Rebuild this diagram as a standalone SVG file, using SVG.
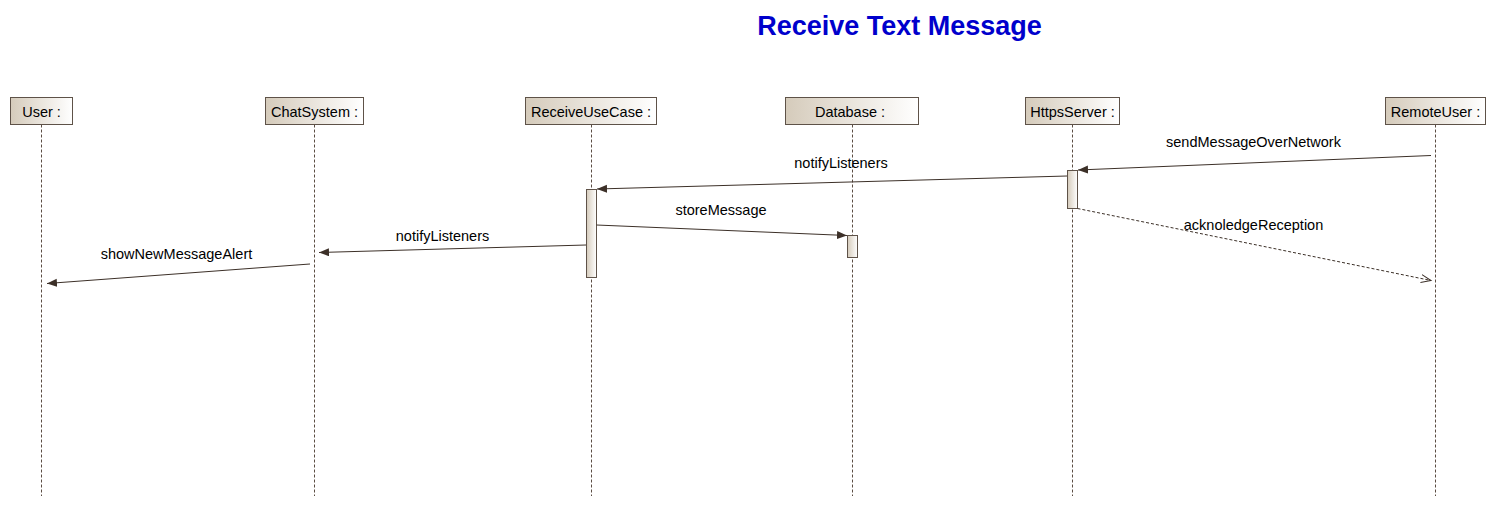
<svg xmlns="http://www.w3.org/2000/svg" width="1496" height="507" viewBox="0 0 1496 507">
<defs>
<linearGradient id="boxg" x1="0" y1="0" x2="1" y2="0">
<stop offset="0" stop-color="#d5cbbb"/>
<stop offset="1" stop-color="#ffffff"/>
</linearGradient>
<marker id="fill" markerUnits="userSpaceOnUse" markerWidth="11" markerHeight="9" refX="10" refY="4" orient="auto">
<path d="M0,0 L10,4 L0,8 z" fill="#3c3028"/>
</marker>
<marker id="open" markerUnits="userSpaceOnUse" markerWidth="12" markerHeight="10" refX="10" refY="4.5" orient="auto">
<path d="M0,0.5 L10,4.5 L0,8.5" fill="none" stroke="#3c3028" stroke-width="1"/>
</marker>
</defs>
<style>
.box{fill:url(#boxg);stroke:#5e5248;stroke-width:1}
.act{fill:url(#boxg);stroke:#5e5248;stroke-width:1}
.life{stroke:#5a4c42;stroke-width:1;stroke-dasharray:3,2;fill:none}
.lbl{font-family:"Liberation Sans",Arial,sans-serif;font-size:14.5px;fill:#000;text-anchor:middle}
.msg{stroke:#3c3028;stroke-width:1;fill:none;marker-end:url(#fill)}
.ret{stroke:#3c3028;stroke-width:1;fill:none;stroke-dasharray:3,2;marker-end:url(#open)}
.title{font-family:"Liberation Sans",Arial,sans-serif;font-size:27px;font-weight:bold;fill:#0000cc;text-anchor:middle}
</style>
<rect width="1496" height="507" fill="#ffffff"/>
<text class="title" x="899.5" y="34.5">Receive Text Message</text>

<g id="user">
<line class="life" x1="41.5" y1="124.5" x2="41.5" y2="496"/>
<rect class="box" x="10.5" y="97.5" width="62" height="27"/>
<text class="lbl" x="41.5" y="116.5">User :</text>
</g>
<g id="chatsystem">
<line class="life" x1="314.5" y1="124.5" x2="314.5" y2="496"/>
<rect class="box" x="265.5" y="97.5" width="98" height="27"/>
<text class="lbl" x="314.5" y="116.5">ChatSystem :</text>
</g>
<g id="receiveusecase">
<line class="life" x1="591.5" y1="124.5" x2="591.5" y2="496"/>
<rect class="box" x="525.5" y="97.5" width="131" height="27"/>
<text class="lbl" x="591" y="116.5">ReceiveUseCase :</text>
<rect class="act" x="586.5" y="189.5" width="10" height="88"/>
</g>
<g id="database">
<line class="life" x1="852.5" y1="124.5" x2="852.5" y2="496"/>
<rect class="box" x="785.5" y="97.5" width="133" height="27"/>
<text class="lbl" x="850" y="116.5">Database :</text>
<rect class="act" x="847.5" y="235.5" width="10" height="22"/>
</g>
<g id="httpsserver">
<line class="life" x1="1072.5" y1="124.5" x2="1072.5" y2="496"/>
<rect class="box" x="1025.5" y="97.5" width="94" height="27"/>
<text class="lbl" x="1072.5" y="116.5">HttpsServer :</text>
<rect class="act" x="1067.5" y="170.5" width="10" height="38"/>
</g>
<g id="remoteuser">
<line class="life" x1="1435.5" y1="124.5" x2="1435.5" y2="496"/>
<rect class="box" x="1385.5" y="97.5" width="100" height="27"/>
<text class="lbl" x="1435.5" y="116.5">RemoteUser :</text>
</g>

<g id="connectors">
<line class="msg" x1="1431" y1="155.5" x2="1078" y2="170"/>
<text class="lbl" x="1253.5" y="147">sendMessageOverNetwork</text>
<line class="msg" x1="1067" y1="176" x2="597" y2="189"/>
<text class="lbl" x="841" y="168">notifyListeners</text>
<line class="msg" x1="596.5" y1="225" x2="847" y2="235.5"/>
<text class="lbl" x="721" y="214.5">storeMessage</text>
<line class="msg" x1="586" y1="245" x2="319" y2="252.5"/>
<text class="lbl" x="442.5" y="241">notifyListeners</text>
<line class="msg" x1="310" y1="264" x2="47" y2="283.5"/>
<text class="lbl" x="176.5" y="258.5">showNewMessageAlert</text>
<line class="ret" x1="1077.5" y1="208.5" x2="1431" y2="280.5"/>
<text class="lbl" x="1253.5" y="230">acknoledgeReception</text>
</g>
</svg>
